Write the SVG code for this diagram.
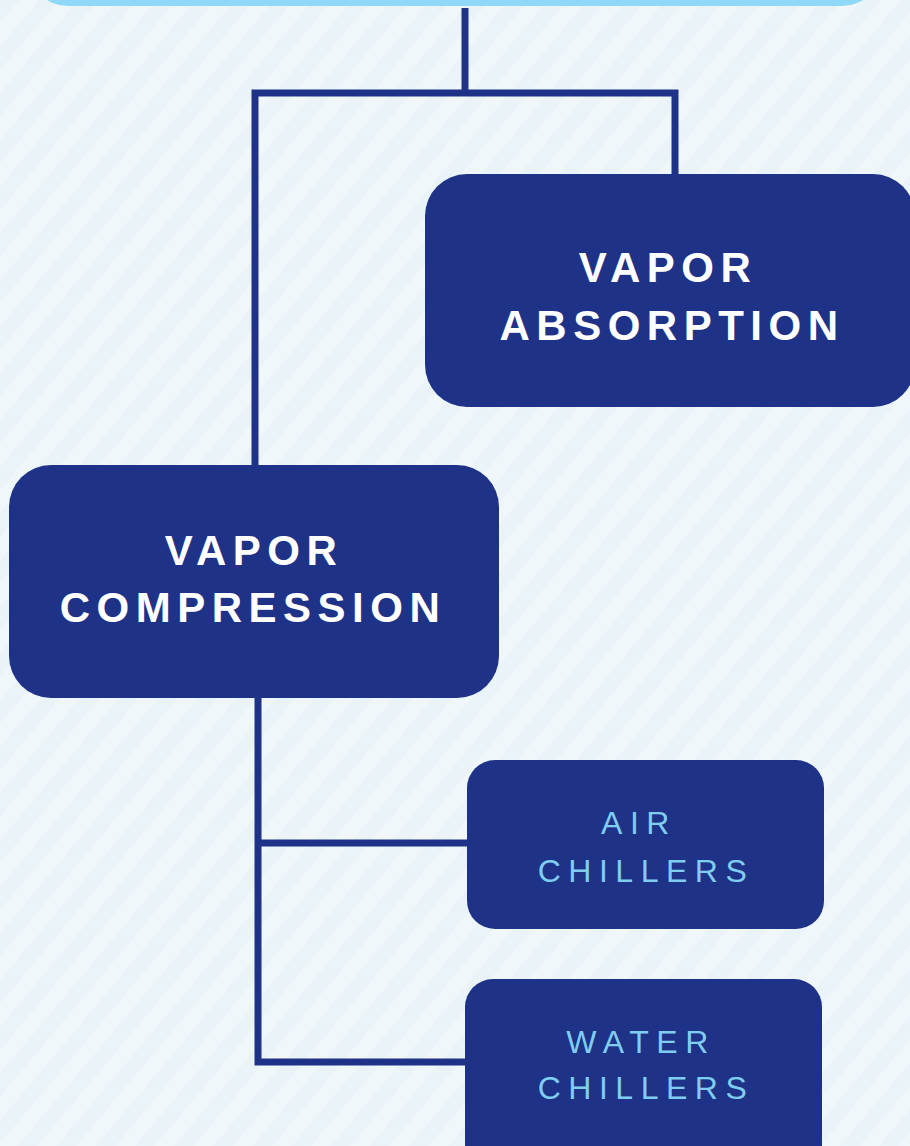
<svg xmlns="http://www.w3.org/2000/svg" width="910" height="1146" viewBox="0 0 910 1146">
<defs>
<pattern id="stripes" patternUnits="userSpaceOnUse" width="30" height="30" patternTransform="rotate(40)">
<rect width="30" height="30" fill="#f0f7fb"/>
<rect width="15" height="30" fill="#eaf3f8"/>
</pattern>
<style>
.node{fill:#1e3287}
.conn{stroke:#1e3287;stroke-width:7;fill:none;stroke-linecap:butt;stroke-linejoin:miter}
.big{font-family:"Liberation Sans",Arial,sans-serif;font-weight:bold;font-size:42px;letter-spacing:6.5px;fill:#ffffff;text-anchor:middle}
.small{font-family:"Liberation Sans",Arial,sans-serif;font-size:32px;letter-spacing:7.5px;fill:#7fcdf0;text-anchor:middle}
</style>
</defs>
<rect width="910" height="1146" fill="url(#stripes)"/>
<g id="connectors">
<path class="conn" d="M465 8 V93"/>
<path class="conn" d="M255 465 V93 H675 V176"/>
<path class="conn" d="M258 698 V1062 H467"/>
<path class="conn" d="M258 843 H468"/>
</g>
<g id="top">
<rect x="28" y="-100" width="854" height="106" rx="40" fill="#8fd8f8"/>
</g>
<g id="vapor-absorption">
<rect class="node" x="425" y="174" width="490" height="233" rx="42"/>
<text class="big" x="668" y="282">VAPOR</text>
<text class="big" x="672" y="340">ABSORPTION</text>
</g>
<g id="vapor-compression">
<rect class="node" x="9" y="465" width="490" height="233" rx="42"/>
<text class="big" x="254" y="565">VAPOR</text>
<text class="big" x="253" y="622">COMPRESSION</text>
</g>
<g id="air-chillers">
<rect class="node" x="467" y="760" width="357" height="169" rx="28"/>
<text class="small" x="639" y="834">AIR</text>
<text class="small" x="646" y="882">CHILLERS</text>
</g>
<g id="water-chillers">
<rect class="node" x="465" y="979" width="357" height="200" rx="28"/>
<text class="small" x="641" y="1053">WATER</text>
<text class="small" x="646" y="1099">CHILLERS</text>
</g>
</svg>
